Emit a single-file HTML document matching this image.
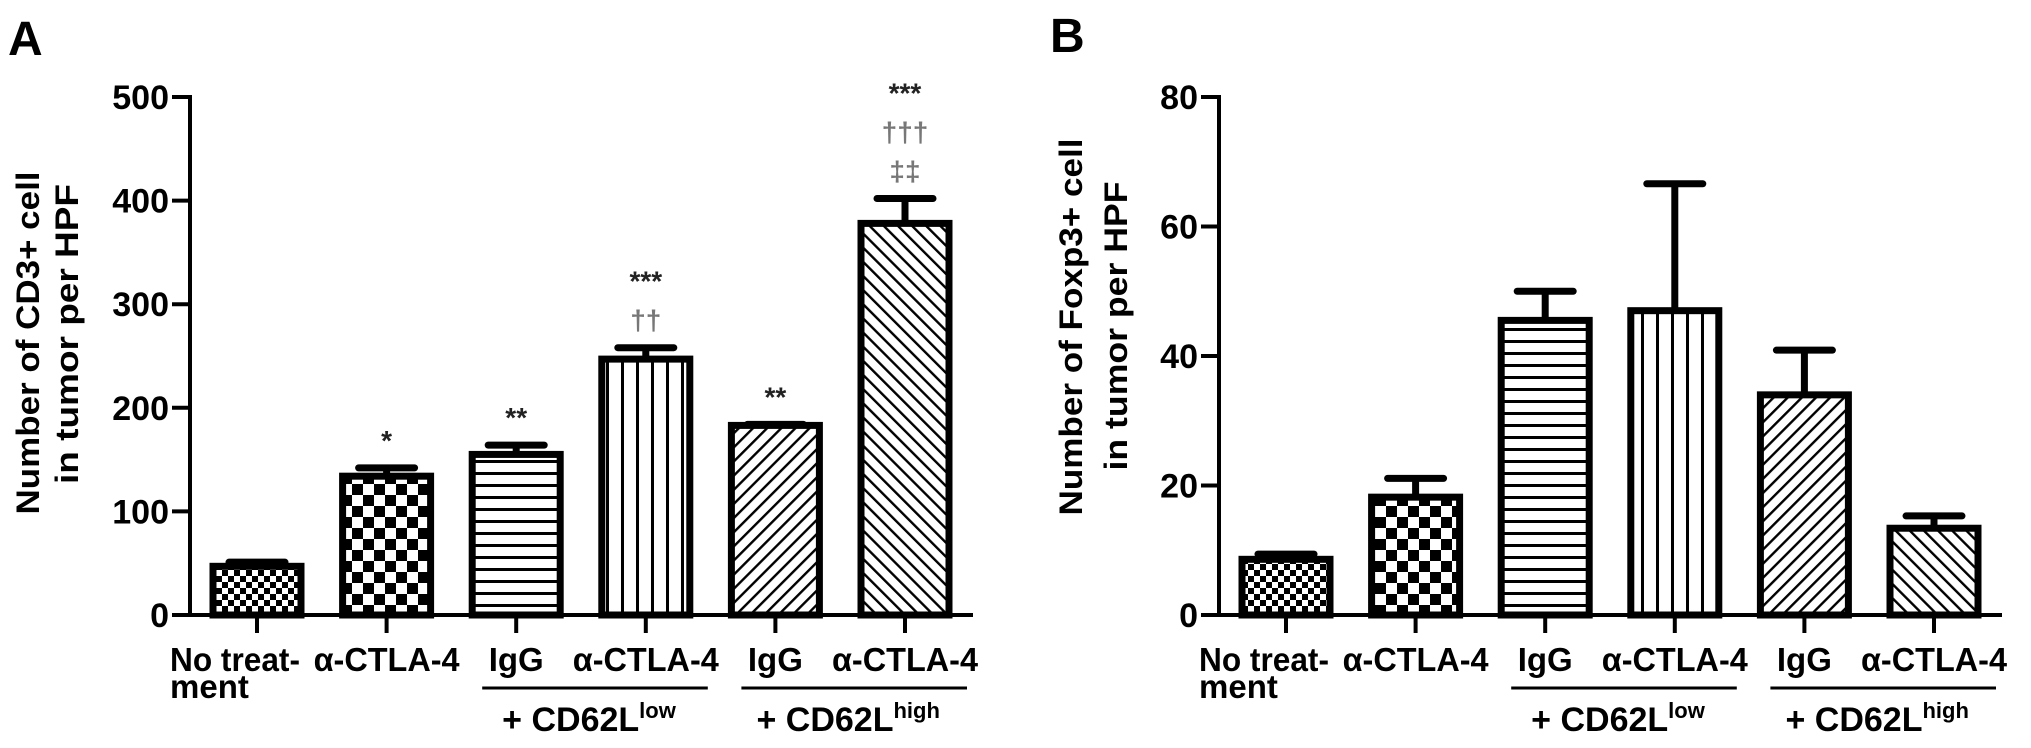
<!DOCTYPE html>
<html><head><meta charset="utf-8"><style>
html,body{margin:0;padding:0;background:#fff}
svg{display:block}
text{font-family:"Liberation Sans",Arial,sans-serif;font-weight:bold;fill:#000}
</style></head><body>
<svg id="fig" width="2031" height="748" viewBox="0 0 2031 748" xmlns="http://www.w3.org/2000/svg">
<defs>
<pattern id="p0" width="12" height="12" patternUnits="userSpaceOnUse"><rect width="12" height="12" fill="#fff"/><rect width="6" height="6" fill="#000"/><rect x="6" y="6" width="6" height="6" fill="#000"/></pattern>
<pattern id="p1" width="22" height="22" patternUnits="userSpaceOnUse"><rect width="22" height="22" fill="#fff"/><rect width="11" height="11" fill="#000"/><rect x="11" y="11" width="11" height="11" fill="#000"/></pattern>
<pattern id="p2" width="12" height="12" patternUnits="userSpaceOnUse"><rect width="12" height="12" fill="#fff"/><rect y="4" width="12" height="3" fill="#000"/></pattern>
<pattern id="p3" width="15" height="15" patternUnits="userSpaceOnUse"><rect width="15" height="15" fill="#fff"/><rect x="6" width="3" height="15" fill="#000"/></pattern>
<pattern id="p4" width="10" height="10" patternUnits="userSpaceOnUse" patternTransform="rotate(45)"><rect width="10" height="10" fill="#fff"/><rect x="4" width="2.4" height="10" fill="#000"/></pattern>
<pattern id="p5" width="10" height="10" patternUnits="userSpaceOnUse" patternTransform="rotate(-45)"><rect width="10" height="10" fill="#fff"/><rect x="4" width="2.4" height="10" fill="#000"/></pattern>
</defs>
<text x="8" y="55" font-size="48">A</text>
<text x="1050" y="52" font-size="48">B</text>
<text transform="translate(39,343) rotate(-90)" text-anchor="middle" font-size="32" textLength="343" lengthAdjust="spacingAndGlyphs">Number of CD3+ cell</text>
<text transform="translate(78,334) rotate(-90)" text-anchor="middle" font-size="32" textLength="300" lengthAdjust="spacingAndGlyphs">in tumor per HPF</text>
<text transform="translate(1082,327) rotate(-90)" text-anchor="middle" font-size="32" textLength="377" lengthAdjust="spacingAndGlyphs">Number of Foxp3+ cell</text>
<text transform="translate(1127,326) rotate(-90)" text-anchor="middle" font-size="32" textLength="289" lengthAdjust="spacingAndGlyphs">in tumor per HPF</text>
</svg>
<script>
const categories = ["No treatment", "α-CTLA-4", "IgG + CD62Llow", "α-CTLA-4 + CD62Llow", "IgG + CD62Lhigh", "α-CTLA-4 + CD62Lhigh"];
const valuesA = [47, 134, 155, 247, 183, 378];
const errorsA = [4, 8, 9, 11, 1, 24];
const valuesB = [8.6, 18.2, 45.5, 47, 34, 13.4];
const errorsB = [0.8, 2.9, 4.5, 19.6, 6.9, 1.9];
const ticksA = [0, 100, 200, 300, 400, 500];
const ticksB = [0, 20, 40, 60, 80];
const annotA = [[], ["*"], ["**"], ["***", "††"], ["**"], ["***", "†††", "‡‡"]];
const xLabels = ["", "α-CTLA-4", "IgG", "α-CTLA-4", "IgG", "α-CTLA-4"];

const NS = "http://www.w3.org/2000/svg";
const svg = document.getElementById("fig");
function mk(tag, attrs, parent) {
  const e = document.createElementNS(NS, tag);
  for (const k in attrs) e.setAttribute(k, attrs[k]);
  (parent || svg).appendChild(e);
  return e;
}
const BASE = 615, TOP = 97;

function panel(axisX, maxV, ticks, values, errors, annots, key) {
  const y = v => BASE - v * (BASE - TOP) / maxV;
  const xc = i => axisX + 67 + i * 129.6;
  const g = mk("g", {});
  
  
  values.forEach((v, i) => {
    const c = xc(i), yt = y(v), ye = y(v + errors[i]);
    const el = mk("line", {x1: c, x2: c, y1: yt, y2: ye, stroke: "#000", "stroke-width": 7}, g);
    
    
    const cap = mk("line", {x1: c - 28, x2: c + 28, y1: ye, y2: ye, stroke: "#000", "stroke-width": 7, "stroke-linecap": "round"}, g);
    
    
    const r = mk("rect", {x: c - 44, y: yt, width: 88, height: BASE - yt, fill: "url(#p" + i + ")", stroke: "#000", "stroke-width": 7}, g);
    
    
    const t = mk("line", {x1: c, x2: c, y1: BASE, y2: 633, stroke: "#000", "stroke-width": 4}, g);
    
    
    (annots[i] || []).forEach((s, j) => {
      const top = y(v + errors[i]);
      const ty = top - 18 - (annots[i].length - 1 - j) * 39;
      const star = s.indexOf("*") >= 0;
      const a = mk("text", {x: c, y: ty, "text-anchor": "middle", "font-size": star ? 28 : 28}, g);
      a.style.fill = star ? "#222" : "#777";
      a.textContent = s;
      
      
    });
    if (xLabels[i]) {
      const lb = mk("text", {x: c, y: 671, "text-anchor": "middle", "font-size": 33}, g);
      lb.textContent = xLabels[i];
      if (xLabels[i].length > 4) { lb.setAttribute("textLength", 146); lb.setAttribute("lengthAdjust", "spacingAndGlyphs"); }
      
      
    }
  });
  const ya = mk("line", {x1: axisX, x2: axisX, y1: TOP - 2, y2: BASE + 2, stroke: "#000", "stroke-width": 4}, g);
  
  
  const xa = mk("line", {x1: axisX - 18, x2: axisX + 783, y1: BASE, y2: BASE, stroke: "#000", "stroke-width": 4}, g);
  
  
  ticks.forEach(tv => {
    const tk = mk("line", {x1: axisX - 18, x2: axisX, y1: y(tv), y2: y(tv), stroke: "#000", "stroke-width": 4}, g);
    
    
    const tl = mk("text", {x: axisX - 21, y: y(tv) + 12, "text-anchor": "end", "font-size": 34}, g);
    tl.textContent = tv;
    
    
  });
  const n1 = mk("text", {x: axisX - 20, y: 671, "font-size": 33, textLength: 130, lengthAdjust: "spacingAndGlyphs"}, g);
  n1.textContent = "No treat-";
  
  
  const n2 = mk("text", {x: axisX - 20, y: 698, "font-size": 33}, g);
  n2.textContent = "ment";
  
  
  [[2, 3, "low"], [4, 5, "high"]].forEach(([a, b, sup]) => {
    const gl = mk("line", {x1: xc(a) - 34, x2: xc(b) + 62, y1: 688, y2: 688, stroke: "#000", "stroke-width": 3}, g);
    
    
    const gt = mk("text", {x: (xc(a) + xc(b)) / 2 + 8, y: 731, "text-anchor": "middle", "font-size": 34}, g);
    
    
    gt.appendChild(document.createTextNode("+ CD62L"));
    const ts = document.createElementNS(NS, "tspan");
    ts.setAttribute("font-size", "22");
    ts.setAttribute("dy", "-13");
    ts.textContent = sup;
    gt.appendChild(ts);
  });
}
panel(190, 500, ticksA, valuesA, errorsA, annotA, "a");
panel(1219, 80, ticksB, valuesB, errorsB, [], "b");
</script>
</body></html>
